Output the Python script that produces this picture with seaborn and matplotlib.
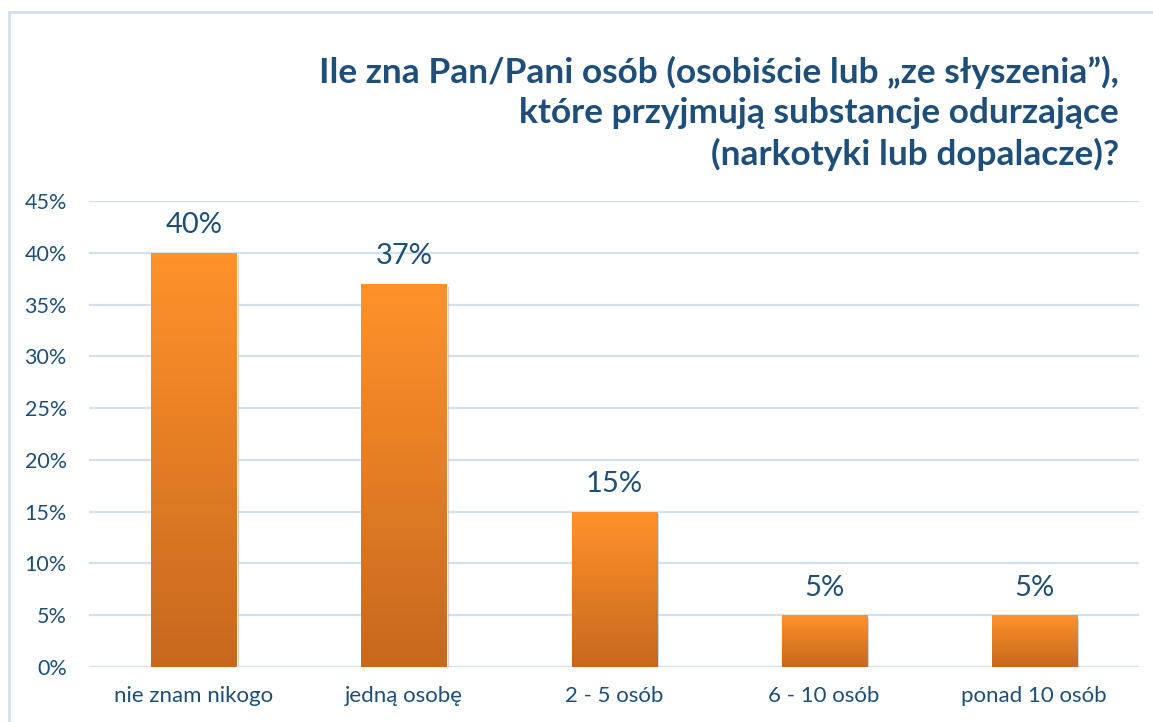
import numpy as np
import pandas as pd
import seaborn as sns
import matplotlib.pyplot as plt
from matplotlib.patches import Rectangle
from matplotlib.colors import LinearSegmentedColormap
import matplotlib.patheffects as pe

# dane
kategorie = ['nie znam nikogo', 'jedną osobę', '2 - 5 osób', '6 - 10 osób', 'ponad 10 osób']
wartosci = [40, 37, 15, 5, 5]
tytul = 'Ile zna Pan/Pani osób (osobiście lub „ze słyszenia”),\nktóre przyjmują substancje odurzające\n(narkotyki lub dopalacze)?'

sns.set_theme(style='white')
plt.rcParams['font.family'] = ['Lato', 'DejaVu Sans']

granat = '#1F4E79'
df = pd.DataFrame({'kategoria': kategorie, 'procent': wartosci})

fig = plt.figure(figsize=(11.53, 7.22), dpi=100)
ax = fig.add_axes([0.0772, 0.0762, 0.9107, 0.6454])

sns.barplot(data=df, x='kategoria', y='procent', color='#F58A27', width=0.405,
            ax=ax, zorder=3)

# gradient na słupkach
cmap = LinearSegmentedColormap.from_list('pom', ['#C8681E', '#FF922A'])
grad = np.linspace(0, 1, 256).reshape(-1, 1)
for p in ax.patches:
    x0, y0 = p.get_x(), p.get_y()
    w, h = p.get_width(), p.get_height()
    p.set_path_effects([pe.SimplePatchShadow(offset=(1.5, -2), shadow_rgbFace='#999999', alpha=0.5),
                        pe.Normal()])
    im = ax.imshow(grad, extent=[x0, x0 + w, y0, y0 + h], origin='lower', cmap=cmap,
                   aspect='auto', zorder=4)
    im.set_clip_path(p)
    ax.text(x0 + w / 2, h + 1.4, f'{h:.0f}%', ha='center', va='bottom',
            fontsize=21, color=granat, zorder=5)

ax.set_xlim(-0.5, len(kategorie) - 0.5)
ax.set_ylim(0, 45)
ax.set_yticks(range(0, 46, 5))
ax.set_yticklabels([f'{v}%' for v in range(0, 46, 5)])
ax.yaxis.grid(True, color='#D5E0EF', linewidth=1.6, zorder=0)
ax.xaxis.grid(False)
for s in ax.spines.values():
    s.set_visible(False)
ax.tick_params(axis='both', colors=granat, length=0)
ax.tick_params(axis='x', labelsize=16, pad=14)
ax.tick_params(axis='y', labelsize=15.5, pad=16)
ax.set_xlabel('')
ax.set_ylabel('')

fig.text(0.9705, 0.922, tytul, ha='right', va='top', fontsize=25.4, fontweight='bold',
         color=granat, linespacing=1.3)

# ramka wykresu
fig.patches.append(Rectangle((9 / 1153, -0.1), 1.2, 0.1 + 1 - 12 / 722, transform=fig.transFigure,
                             fill=False, edgecolor='#D5E0EF', linewidth=2))

fig.savefig('out.png', dpi=100)
